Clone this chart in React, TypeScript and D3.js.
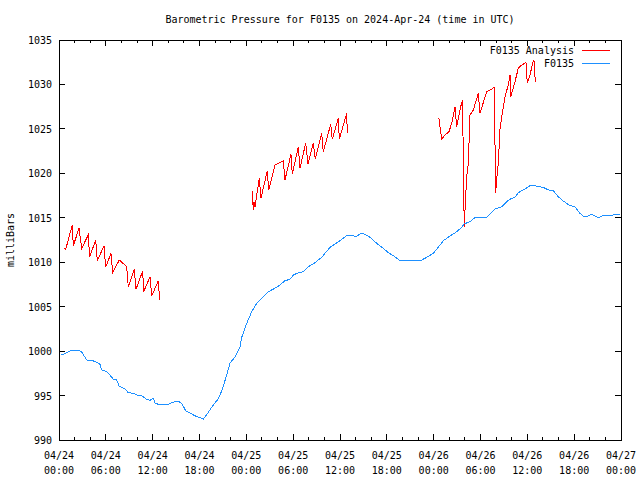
import React from "react";
import * as d3 from "d3";

// ---- data (hours since 2024-04-24 00:00 UTC, millibars) ----
const stationHours = [0.26,0.55,1.41,2.05,2.56,2.91,3.55,4.19,4.83,5.25,5.47,6.11,6.53,6.96,7.39,7.69,8.46,8.88,9.52,10.16,10.59,11.24,11.66,12.08,12.3,12.94,14.0,14.44,15.28,15.72,16.23,17.0,17.64,18.06,18.49,18.92,19.56,20.41,20.84,21.36,21.91,22.55,23.19,23.41,24.05,24.69,25.33,25.97,26.81,27.67,28.31,28.95,29.59,30.02,30.66,31.3,31.94,32.8,33.65,34.72,35.36,36.0,36.86,37.7,38.05,38.65,39.2,39.84,40.7,41.55,42.19,42.83,43.59,44.33,45.39,46.47,47.11,47.95,48.59,49.23,50.09,50.95,51.59,51.88,52.65,53.29,54.7,55.21,55.85,56.71,57.35,57.99,58.42,58.84,59.7,60.34,60.76,61.4,62.04,62.68,63.32,63.96,64.6,65.46,66.1,66.74,67.17,67.81,68.24,69.09,69.52,70.37,71.65,71.87];
const stationValues = [999.56,999.64,1000.01,1000.05,1000.05,999.9,999.0,998.97,998.74,998.52,997.88,997.68,997.31,996.83,996.75,996.08,995.74,995.32,995.25,994.98,994.98,994.58,994.47,994.69,994.13,993.97,993.97,994.24,994.35,994.13,993.3,992.93,992.62,992.51,992.33,992.85,993.68,994.65,995.51,996.94,998.63,999.37,1000.5,1001.55,1003.13,1004.43,1005.38,1005.94,1006.68,1007.07,1007.44,1007.92,1008.08,1008.56,1008.82,1008.93,1009.5,1009.95,1010.55,1011.68,1012.05,1012.42,1012.98,1012.98,1012.87,1013.25,1013.14,1012.8,1012.13,1011.57,1011.07,1010.73,1010.25,1010.17,1010.17,1010.25,1010.55,1011.0,1011.68,1012.42,1012.95,1013.43,1013.93,1014.3,1014.56,1015.01,1015.01,1015.39,1015.99,1016.25,1016.81,1017.19,1017.3,1017.82,1018.24,1018.61,1018.69,1018.5,1018.43,1018.13,1018.05,1017.37,1016.89,1016.36,1016.25,1015.5,1015.2,1015.2,1015.39,1015.01,1015.2,1015.24,1015.39,1015.39];

// null entries separate the analysis segments
const analysisHours: (number | null)[] = [0.68,0.86,1.70,1.83,2.56,2.91,3.75,3.93,4.70,4.91,5.76,5.98,6.66,6.88,7.72,8.67,8.88,9.65,9.86,10.72,10.85,11.66,11.88,12.72,12.9,
  null,
  24.76,24.89,24.98,25.11,25.66,25.88,26.68,26.86,27.67,28.73,28.95,29.72,29.89,30.66,30.87,31.6,31.9,32.58,32.83,33.65,33.86,34.81,35.01,35.78,35.91,36.86,36.93,
  null,
  48.68,48.81,49.03,49.45,49.96,50.31,50.73,50.95,51.46,51.72,51.79,51.92,52.1,52.23,52.44,52.65,53.08,53.72,53.93,54.79,55.43,55.73,55.85,55.94,56.07,56.28,56.49,56.71,57.14,57.56,57.78,57.87,58.42,58.84,59.28,59.83,59.99,60.34,60.68,60.85,60.98,61.02];
const analysisValues: (number | null)[] = [1011.57,1011.45,1014.19,1011.83,1013.82,1011.57,1013.06,1010.62,1012.5,1010.17,1011.83,1009.43,1011.0,1008.82,1010.25,1009.5,1007.18,1009.2,1006.95,1009.01,1006.68,1008.37,1006.2,1007.92,1005.75,
  null,
  1018.05,1015.88,1016.81,1016.25,1019.44,1017.19,1020.3,1018.13,1020.94,1021.42,1019.25,1022.14,1019.93,1023.0,1020.57,1023.38,1021.02,1023.45,1021.58,1024.5,1022.43,1025.52,1023.83,1026.19,1023.83,1026.75,1024.5,
  null,
  1026.19,1025.25,1023.83,1024.31,1024.68,1025.63,1027.5,1025.25,1027.5,1028.25,1021.13,1014.0,1017.37,1019.62,1021.13,1026.56,1027.13,1029.0,1026.75,1029.18,1029.45,1029.68,1023.75,1017.75,1019.25,1021.13,1024.88,1026.37,1028.62,1029.94,1031.06,1028.62,1030.31,1031.82,1032.19,1032.45,1030.13,1031.06,1032.38,1032.75,1030.87,1030.31];

const yTicks = [990, 995, 1000, 1005, 1010, 1015, 1020, 1025, 1030, 1035];
const xTickHours = [0, 6, 12, 18, 24, 30, 36, 42, 48, 54, 60, 66, 72];
const xTickDates = ["04/24","04/24","04/24","04/24","04/25","04/25","04/25","04/25","04/26","04/26","04/26","04/26","04/27"];
const xTickTimes = ["00:00","06:00","12:00","18:00","00:00","06:00","12:00","18:00","00:00","06:00","12:00","18:00","00:00"];
const xMinorHours = d3.range(0, 73, 2).filter((h) => h % 6 !== 0);

const titleText = "Barometric Pressure for F0135 on 2024-Apr-24 (time in UTC)";
const yLabel = "milliBars";
const seriesNames = ["F0135 Analysis", "F0135"];
const seriesColors = ["#ff0000", "#1e90ff"];

const W = 640, H = 480;
const L = 59, R = 621, T = 40, B = 440;
const FONT = "'DejaVu Sans Mono', 'Liberation Mono', monospace";

export default function App() {
  const x = d3.scaleLinear().domain([0, 72]).range([L, R]);
  const y = d3.scaleLinear().domain([990, 1035]).range([B, T]);

  const station = stationHours.map((h, i) => [h, stationValues[i]] as [number, number]);
  const analysis = analysisHours.map((h, i) => [h, analysisValues[i]] as [number | null, number | null]);

  const lineStation = d3.line<[number, number]>().x((d) => x(d[0])).y((d) => y(d[1]));
  const lineAnalysis = d3
    .line<[number | null, number | null]>()
    .defined((d) => d[0] != null && d[1] != null)
    .x((d) => x(d[0] as number))
    .y((d) => y(d[1] as number));

  const major = 6, minor = 3;

  return (
    <svg width={W} height={H} style={{ position: "absolute", left: 0, top: 0, background: "#fff" }} fontFamily={FONT} fontSize={10}>
      <rect x={0} y={0} width={W} height={H} fill="#fff" />
      <text x={(L + R) / 2} y={23} textAnchor="middle" fill="#000">{titleText}</text>
      <text transform={`translate(14,${(T + B) / 2}) rotate(-90)`} textAnchor="middle" fill="#000">{yLabel}</text>

      <g stroke="#000" strokeWidth={1} shapeRendering="crispEdges">
        {yTicks.map((v) => (
          <g key={"y" + v}>
            <line x1={L} x2={L + major} y1={y(v)} y2={y(v)} />
            <line x1={R} x2={R - major} y1={y(v)} y2={y(v)} />
          </g>
        ))}
        {xTickHours.map((h) => (
          <g key={"x" + h}>
            <line x1={x(h)} x2={x(h)} y1={B} y2={B - major} />
            <line x1={x(h)} x2={x(h)} y1={T} y2={T + major} />
          </g>
        ))}
        {xMinorHours.map((h) => (
          <g key={"m" + h}>
            <line x1={x(h)} x2={x(h)} y1={B} y2={B - minor} />
            <line x1={x(h)} x2={x(h)} y1={T} y2={T + minor} />
          </g>
        ))}
        <rect x={L} y={T} width={R - L} height={B - T} fill="none" />
      </g>

      {yTicks.map((v) => (
        <text key={"yl" + v} x={L - 7} y={y(v) + 4} textAnchor="end" fill="#000">{v}</text>
      ))}
      {xTickHours.map((h, i) => (
        <g key={"xl" + h}>
          <text x={x(h)} y={459} textAnchor="middle" fill="#000">{xTickDates[i]}</text>
          <text x={x(h)} y={474} textAnchor="middle" fill="#000">{xTickTimes[i]}</text>
        </g>
      ))}

      <path d={lineAnalysis(analysis) || ""} fill="none" stroke={seriesColors[0]} strokeWidth={1} shapeRendering="crispEdges" />
      <path d={lineStation(station) || ""} fill="none" stroke={seriesColors[1]} strokeWidth={1} shapeRendering="crispEdges" />

      {seriesNames.map((n, i) => (
        <g key={n}>
          <text x={574} y={54 + i * 13} textAnchor="end" fill="#000">{n}</text>
          <line x1={582} x2={610} y1={50 + i * 13} y2={50 + i * 13} stroke={seriesColors[i]} strokeWidth={1} shapeRendering="crispEdges" />
        </g>
      ))}
    </svg>
  );
}
